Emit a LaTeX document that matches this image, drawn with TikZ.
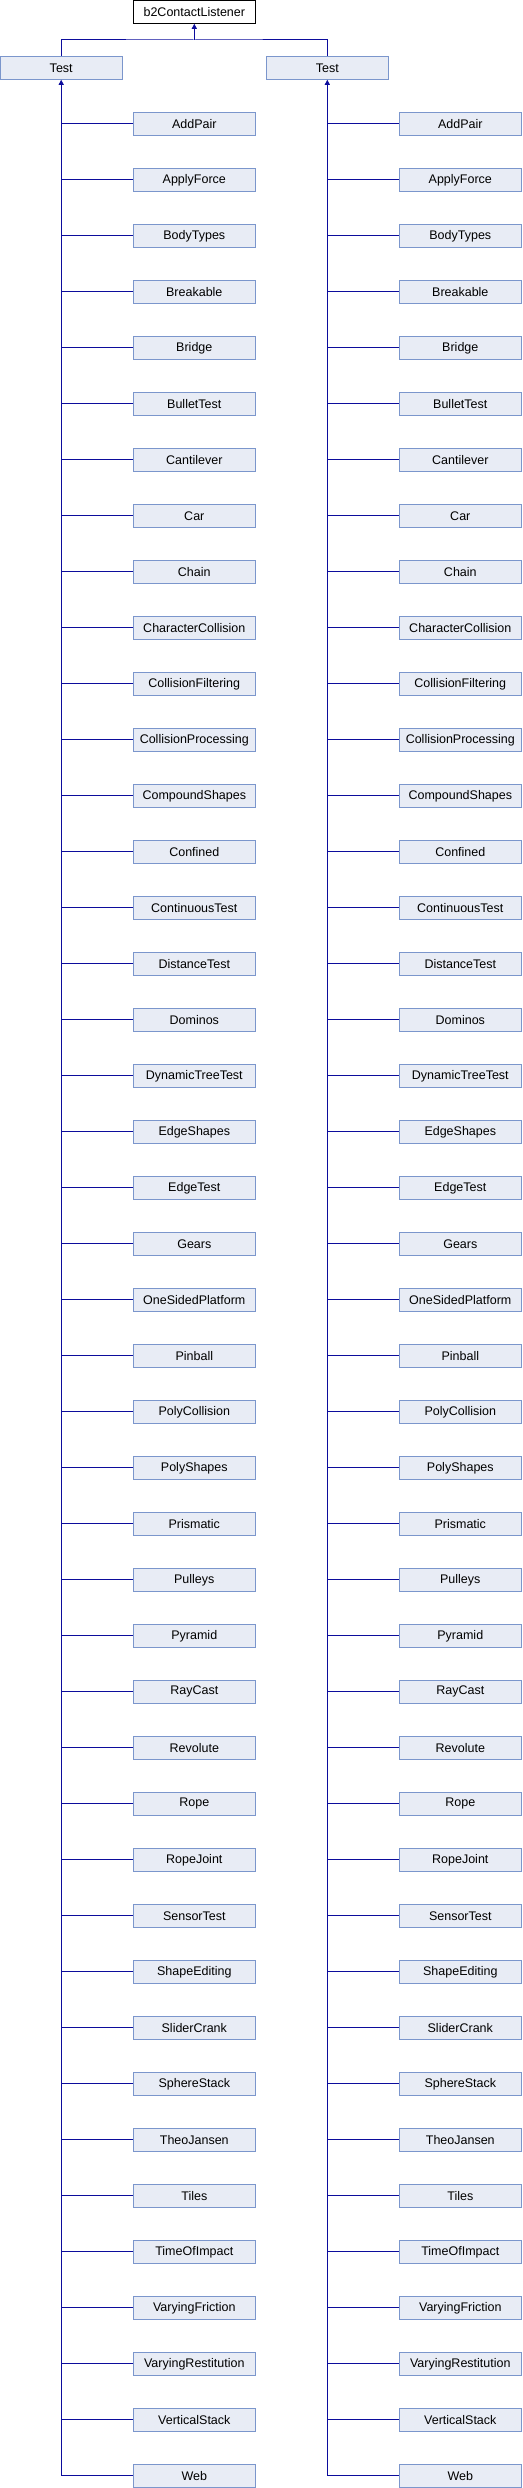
\documentclass[tikz,border=0pt]{standalone}
\usepackage{fontspec}
\setmainfont{Liberation Sans}
\usetikzlibrary{arrows.meta}
\definecolor{boxfill}{HTML}{E8ECF5}
\definecolor{boxline}{HTML}{7B96CC}
\definecolor{conn}{HTML}{0C0C9C}
\tikzset{
  cls/.style={draw=boxline, fill=boxfill, line width=1pt, minimum width=122pt, minimum height=23pt, inner sep=0pt, font=\fontsize{12.5}{14}\selectfont},
  base/.style={draw=black, fill=white, line width=1pt, minimum width=122pt, minimum height=23pt, inner sep=0pt, font=\fontsize{12.5}{14}\selectfont},
  link/.style={draw=conn, line width=1pt},
  inh/.style={draw=conn, line width=1pt, {Triangle[width=5pt,length=5pt]}-},
}
\begin{document}
\begin{tikzpicture}[x=1pt,y=-1pt]
\useasboundingbox (0,0) rectangle (522,2488);
\node[base] (b2) at (194.3,11.8) {b2ContactListener};
\node[cls] (tl) at (61.2,67.8) {Test};
\node[cls] (tr) at (327.3,67.8) {Test};
\coordinate (j) at (194.3,40);
\draw[inh] (b2.south) -- (j);
\draw[link] (tl.north) |- (j) -| (tr.north);
\foreach \name [count=\i from 0] in {AddPair,ApplyForce,BodyTypes,Breakable,Bridge,BulletTest,Cantilever,Car,Chain,CharacterCollision,CollisionFiltering,CollisionProcessing,CompoundShapes,Confined,ContinuousTest,DistanceTest,Dominos,DynamicTreeTest,EdgeShapes,EdgeTest,Gears,OneSidedPlatform,Pinball,PolyCollision,PolyShapes,Prismatic,Pulleys,Pyramid,RayCast,Revolute,Rope,RopeJoint,SensorTest,ShapeEditing,SliderCrank,SphereStack,TheoJansen,Tiles,TimeOfImpact,VaryingFriction,VaryingRestitution,VerticalStack,Web}{
  \node[cls] (l\i) at (194.3,{123.8+56*\i}) {\name};
  \node[cls] (r\i) at (460.3,{123.8+56*\i}) {\name};
  \draw[link] (l\i.west) -- (l\i.west -| tl.south);
  \draw[link] (r\i.west) -- (r\i.west -| tr.south);
}
\draw[inh] (tl.south) -- (tl.south |- l42.west);
\draw[inh] (tr.south) -- (tr.south |- r42.west);
\end{tikzpicture}
\end{document}
